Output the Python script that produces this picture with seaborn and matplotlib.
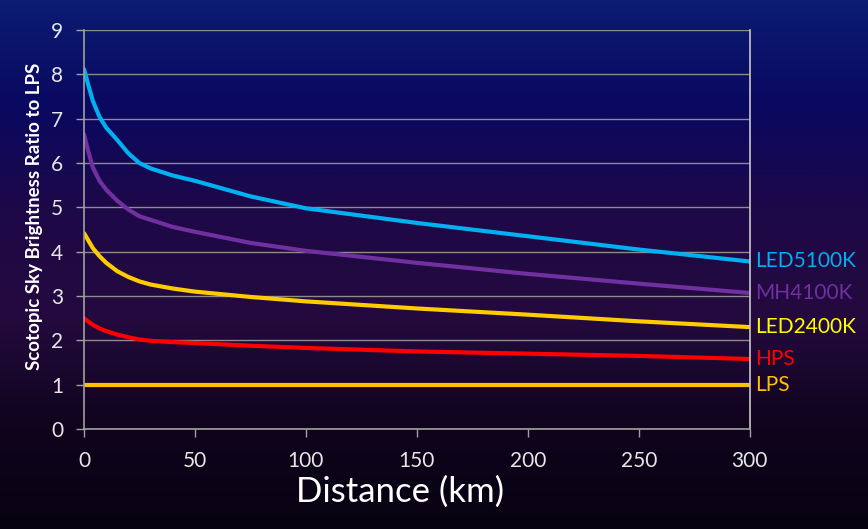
import numpy as np
import pandas as pd
import matplotlib
matplotlib.use("Agg")
import matplotlib.pyplot as plt
from matplotlib.colors import LinearSegmentedColormap
import seaborn as sns

# ---- data ----
distance = [0, 2, 4, 7, 10, 15, 20, 25, 30, 40, 50, 75, 100, 150, 200, 250, 300]
led5100k = [8.12, 7.75, 7.4, 7.04, 6.8, 6.52, 6.22, 6.0, 5.88, 5.72, 5.6, 5.25, 4.98, 4.65, 4.35, 4.05, 3.78]
mh4100k = [6.65, 6.25, 5.9, 5.6, 5.4, 5.15, 4.95, 4.8, 4.72, 4.56, 4.45, 4.2, 4.02, 3.75, 3.5, 3.28, 3.07]
led2400k = [4.42, 4.25, 4.08, 3.9, 3.75, 3.56, 3.43, 3.33, 3.26, 3.17, 3.1, 2.98, 2.88, 2.72, 2.58, 2.43, 2.3]
hps = [2.5, 2.42, 2.35, 2.27, 2.21, 2.13, 2.07, 2.02, 1.99, 1.96, 1.94, 1.88, 1.83, 1.75, 1.7, 1.65, 1.58]
lps = [1.0] * len(distance)

series = ["LED5100K", "MH4100K", "LED2400K", "HPS", "LPS"]
line_colors = ["#00B0F0", "#7030A0", "#FFCC00", "#FF0000", "#FFC000"]
label_colors = ["#00B0F0", "#7030A0", "#FFFF00", "#FF0000", "#FFC000"]

df = pd.DataFrame({
    "Distance": distance * 5,
    "Ratio": led5100k + mh4100k + led2400k + hps + lps,
    "Lamp": sum([[s] * len(distance) for s in series], []),
})

sns.set_style("dark")
plt.rcParams["font.family"] = ["Lato", "DejaVu Sans"]

fig = plt.figure(figsize=(8.68, 5.29), dpi=100)

# gradient background: dark blue -> purple -> near black
bg = fig.add_axes([0, 0, 1, 1], zorder=0)
cmap = LinearSegmentedColormap.from_list(
    "bg", ["#0B1C72", "#0A0860", "#1E0848", "#240A3E", "#10041E", "#070210"])
grad = np.linspace(0, 1, 256).reshape(-1, 1)
bg.imshow(grad, aspect="auto", cmap=cmap, extent=[0, 1, 0, 1], origin="upper")
bg.set_axis_off()

ax = fig.add_axes([0.0968, 0.189, 0.767, 0.754], zorder=1)
ax.patch.set_alpha(0)

sns.lineplot(data=df, x="Distance", y="Ratio", hue="Lamp", hue_order=series,
             palette=line_colors, linewidth=3, legend=False, ax=ax)

ax.set_xlim(0, 300)
ax.set_ylim(0, 9)
ax.set_xticks(range(0, 301, 50))
ax.set_yticks(range(0, 10))
ax.grid(axis="y", color="#8C8C8C", linewidth=1)
ax.grid(axis="x", visible=False)
ax.spines["top"].set_visible(False)
for side in ["left", "bottom", "right"]:
    ax.spines[side].set_visible(True)
    ax.spines[side].set_color("#A0A0A0")
    ax.spines[side].set_linewidth(1.2)
ax.spines["right"].set_color("#C8C8C8")

ax.tick_params(axis="both", colors="#A0A0A0", length=6, width=1, labelcolor="#E6E6E6",
               labelsize=15, direction="out", bottom=True, left=True)
ax.tick_params(axis="y", pad=9)
ax.tick_params(axis="x", pad=10)

ax.set_xlabel("Distance (km)", color="white", fontsize=25, va="center")
ax.xaxis.set_label_coords(0.474, -0.158)
ax.set_ylabel("Scotopic Sky Brightness Ratio to LPS", color="white", fontsize=13.5,
              fontweight="bold", va="center")
ax.yaxis.set_label_coords(-0.074, 0.534)

ends = [led5100k[-1], mh4100k[-1], led2400k[-1], hps[-1], lps[-1]]
for name, yv, c in zip(series, ends, label_colors):
    ax.annotate(name, xy=(300, yv), xytext=(4, 0), textcoords="offset points",
                color=c, fontsize=15, va="center", ha="left", annotation_clip=False)

fig.savefig("out.png", dpi=100)
